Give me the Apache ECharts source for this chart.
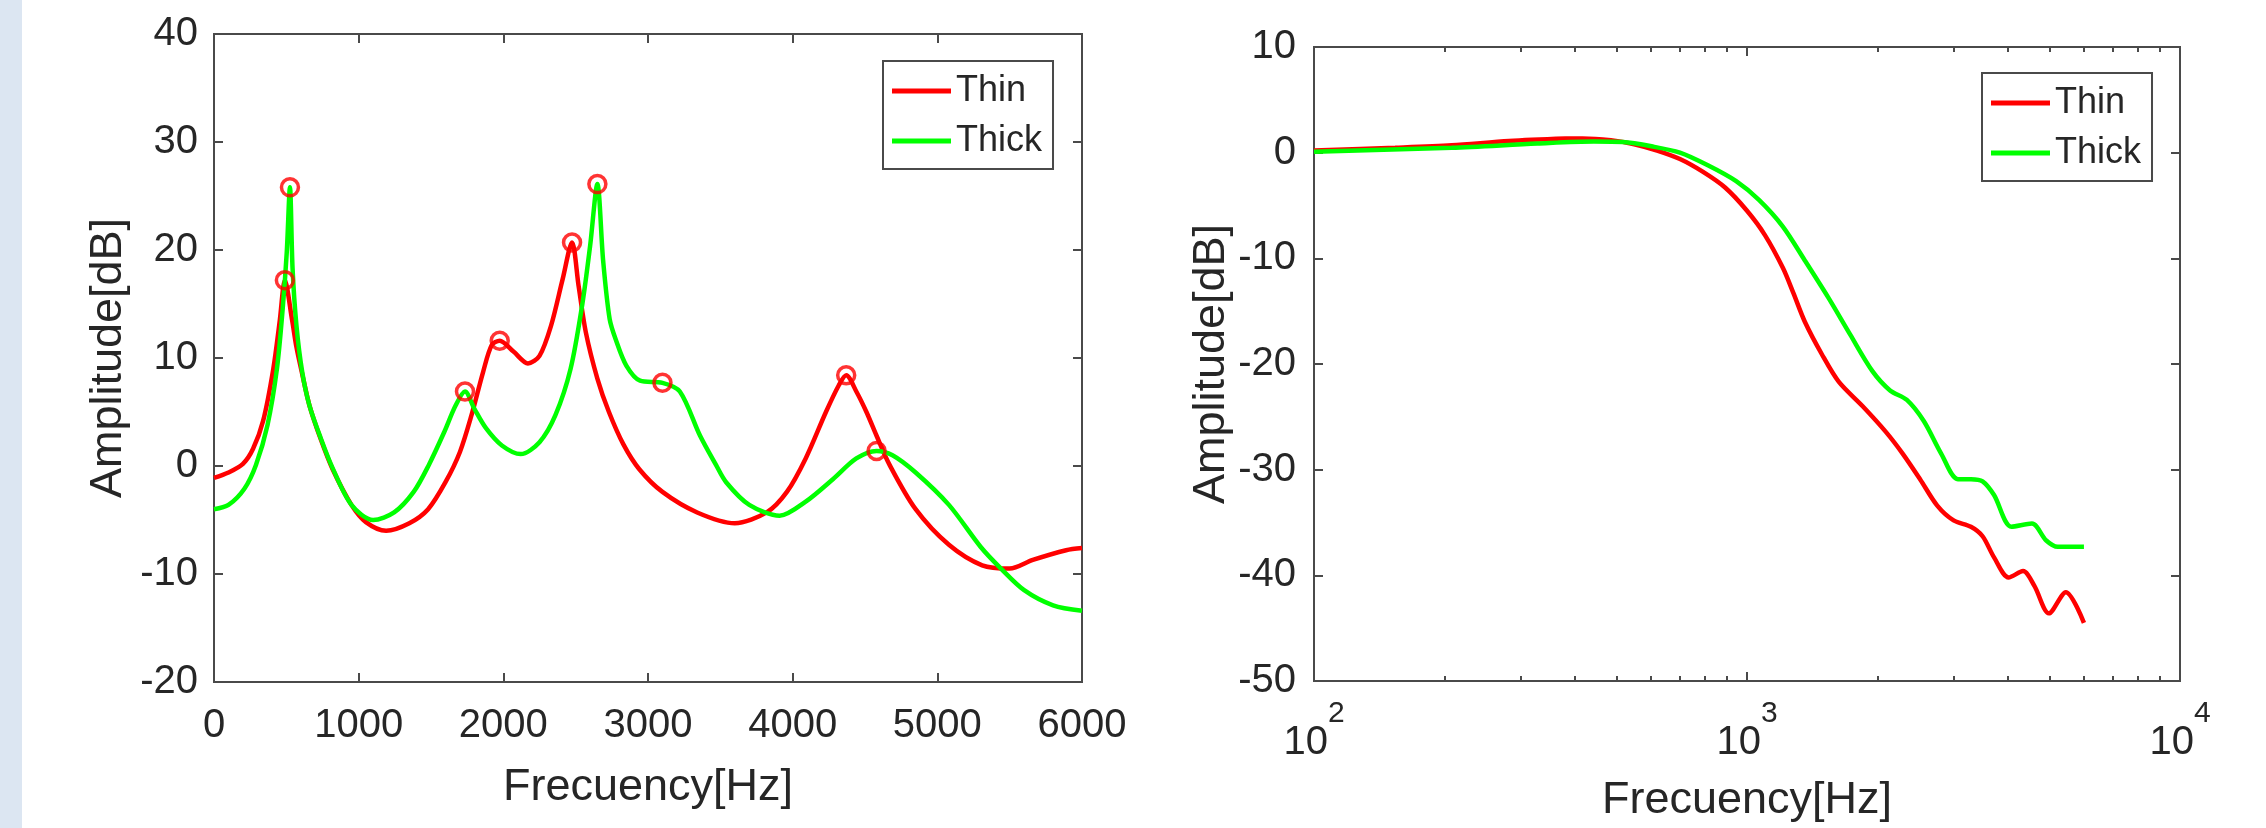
<!DOCTYPE html>
<html>
<head>
<meta charset="utf-8">
<title>Frecuency response</title>
<script src="https://cdn.jsdelivr.net/npm/echarts@6/dist/echarts.min.js"></script>
<style>
  html, body { margin: 0; padding: 0; background: #fff; }
  #strip { position: absolute; left: 0; top: 0; width: 22px; height: 828px; background: #dce6f2; }
  #chart { position: absolute; left: 0; top: 0; width: 2266px; height: 828px; }
</style>
</head>
<body>
<div id="strip"></div>
<div id="chart"></div>
<script>
// Left panel: linear frequency axis (Hz) / amplitude (dB)
const thinFreq = [0, 100, 200, 270, 340, 410, 455, 490, 540, 570, 610, 660, 740, 820, 950, 1050, 1190, 1350, 1480, 1600, 1700, 1780, 1860, 1920, 1975, 2070, 2170, 2250, 2330, 2410, 2475, 2520, 2570, 2650, 2730, 2830, 2940, 3100, 3340, 3600, 3820, 3960, 4090, 4230, 4320, 4370, 4440, 4510, 4580, 4670, 4850, 5080, 5310, 5500, 5660, 5890, 6000]
const thinAmp = [-1.1, -0.6, 0.2, 1.6, 4.2, 9.0, 13.5, 17.2, 13.5, 11.0, 8.5, 5.6, 2.4, -0.3, -3.6, -5.2, -6.0, -5.3, -4.0, -1.5, 1.3, 4.7, 8.7, 11.2, 11.6, 10.6, 9.5, 10.2, 13.0, 17.3, 20.7, 16.7, 12.4, 8.1, 5.0, 2.0, -0.3, -2.4, -4.3, -5.3, -4.3, -2.4, 0.7, 5.0, 7.5, 8.4, 6.9, 5.0, 2.8, 0.1, -4.0, -7.3, -9.2, -9.5, -8.7, -7.8, -7.6]

const thickFreq = [0, 100, 210, 290, 370, 435, 475, 503, 525, 543, 570, 610, 660, 740, 820, 950, 1100, 1245, 1380, 1485, 1590, 1670, 1735, 1800, 1880, 1990, 2120, 2250, 2360, 2465, 2545, 2600, 2650, 2690, 2735, 2780, 2850, 2945, 3100, 3220, 3360, 3470, 3540, 3700, 3910, 4090, 4280, 4440, 4580, 4690, 4850, 5080, 5300, 5440, 5600, 5800, 6000]
const thickAmp = [-4.0, -3.6, -2.1, 0.1, 3.8, 9.0, 14.6, 19.8, 25.8, 18.3, 13.0, 8.7, 5.6, 2.5, -0.2, -3.6, -5.0, -4.3, -2.4, 0.1, 3.1, 5.6, 6.9, 5.3, 3.5, 1.9, 1.1, 2.2, 4.7, 9.0, 14.9, 20.4, 26.1, 19.0, 13.6, 11.6, 9.3, 7.9, 7.7, 6.9, 2.8, 0.1, -1.5, -3.6, -4.6, -3.3, -1.2, 0.7, 1.4, 1.0, -0.6, -3.6, -7.5, -9.5, -11.5, -12.9, -13.4]

// Detected peaks (red circles)
const peakFreq = [490, 1975, 2475, 4370, 525, 1735, 2650, 3100, 4580]
const peakAmp = [17.2, 11.6, 20.7, 8.4, 25.8, 6.9, 26.1, 7.7, 1.4]

// Right panel: log frequency axis
const thinLogFreq = [100, 154, 208, 282, 381, 417, 485, 549, 620, 700, 790, 890, 1000, 1100, 1210, 1280, 1360, 1490, 1630, 1850, 2090, 2290, 2510, 2750, 3000, 3290, 3500, 3720, 4020, 4340, 4610, 4980, 5450, 6000]
const thinLogAmp = [0.2, 0.47, 0.7, 1.1, 1.33, 1.35, 1.17, 0.8, 0.2, -0.6, -1.8, -3.3, -5.5, -7.8, -10.9, -13.3, -16.0, -19.1, -21.7, -24.0, -26.4, -28.5, -30.9, -33.4, -34.8, -35.4, -36.3, -38.3, -40.2, -39.6, -41.0, -43.6, -41.6, -44.5]

const thickLogFreq = [100, 208, 328, 443, 517, 602, 700, 812, 944, 1067, 1210, 1360, 1540, 1730, 1950, 2140, 2340, 2560, 2810, 3070, 3290, 3500, 3720, 4080, 4550, 4910, 5220, 6000]
const thickLogAmp = [0.08, 0.47, 0.86, 1.05, 1.0, 0.6, 0, -1.2, -2.7, -4.5, -7.0, -10.2, -13.7, -17.2, -20.7, -22.5, -23.4, -25.4, -28.5, -30.9, -30.9, -31.1, -32.4, -35.4, -35.1, -36.7, -37.3, -37.3]

// Tick marks
const logMajorTicks = [100, 1000, 10000]
const logMinorTicks = [200, 300, 400, 500, 600, 700, 800, 900, 2000, 3000, 4000, 5000, 6000, 7000, 8000, 9000]

const legendNames = ['Thin', 'Thick']

const axisColor = '#4a4a4a'
const textColor = '#262626'
const red = '#ff0000'
const green = '#00ff00'

const pairs = (xs, ys) => xs.map((x, i) => [x, ys[i]])

const myChart = echarts.init(document.getElementById('chart'))

// axis that only draws inward ticks (the box frame comes from the grid border)
const tickOnly = (extra, len) => Object.assign({
    axisLine: { show: false, onZero: false },
    splitLine: { show: false },
    axisTick: { show: true, inside: true, length: len || 9, lineStyle: { color: axisColor, width: 2 } },
    axisLabel: { show: false },
}, extra)

const labelStyle = { color: textColor, fontSize: 40, fontFamily: 'Liberation Sans', formatter: v => String(v) }
const nameStyle = { color: textColor, fontSize: 45, fontFamily: 'Liberation Sans' }

const lineSeries = (name, data, color, x, y) => ({
    name: name,
    type: 'line',
    xAxisIndex: x,
    yAxisIndex: y,
    data: data,
    showSymbol: false,
    smooth: 0.3,
    lineStyle: { color: color, width: 4.5 },
    itemStyle: { color: color },
})

const legendBox = (left, top) => ({
    data: legendNames,
    orient: 'vertical',
    left: left,
    top: top,
    padding: [12, 11, 10, 9],
    itemGap: 14,
    itemWidth: 59,
    itemHeight: 5,
    icon: 'rect',
    borderColor: axisColor,
    borderWidth: 2,
    backgroundColor: '#fff',
    textStyle: { fontSize: 36, color: textColor, fontFamily: 'Liberation Sans' },
})

const option = {
    animation: false,
    textStyle: { fontFamily: 'Liberation Sans' },
    grid: [
        { left: 214, top: 34, width: 868, height: 648, show: true, borderColor: axisColor, borderWidth: 2, backgroundColor: '#fff' },
        { left: 1314, top: 47, width: 866, height: 634, show: true, borderColor: axisColor, borderWidth: 2, backgroundColor: '#fff' },
    ],
    legend: [legendBox(883, 61), legendBox(1982, 73)],
    xAxis: [
        tickOnly({
            type: 'value', gridIndex: 0, position: 'bottom', min: 0, max: 6000, interval: 1000,
            axisLabel: Object.assign({ show: true, margin: 24, showMinLabel: true, showMaxLabel: true }, labelStyle),
            name: 'Frecuency[Hz]', nameLocation: 'middle', nameGap: 83, nameTextStyle: nameStyle,
        }),
        tickOnly({ type: 'value', gridIndex: 0, position: 'top', min: 0, max: 6000, interval: 1000 }),
        tickOnly({
            type: 'log', logBase: 10, gridIndex: 1, position: 'bottom', min: 100, max: 10000,
            axisTick: { show: true, inside: true, length: 9, customValues: logMajorTicks, lineStyle: { color: axisColor, width: 2 } },
            axisLabel: {
                show: true, margin: 18, customValues: logMajorTicks, showMinLabel: true, showMaxLabel: true,
                formatter: v => '{b|10}{s|' + Math.round(Math.log10(v)) + '}',
                rich: {
                    b: { fontSize: 40, lineHeight: 64, color: textColor, fontFamily: 'Liberation Sans', verticalAlign: 'bottom' },
                    s: { fontSize: 30, lineHeight: 30, color: textColor, fontFamily: 'Liberation Sans', verticalAlign: 'top' },
                },
            },
            name: 'Frecuency[Hz]', nameLocation: 'middle', nameGap: 97, nameTextStyle: nameStyle,
        }),
        tickOnly({
            type: 'log', logBase: 10, gridIndex: 1, position: 'bottom', min: 100, max: 10000,
            axisTick: { show: true, inside: true, length: 5, customValues: logMinorTicks, lineStyle: { color: axisColor, width: 2 } },
        }),
        tickOnly({
            type: 'log', logBase: 10, gridIndex: 1, position: 'top', min: 100, max: 10000,
            axisTick: { show: true, inside: true, length: 9, customValues: logMajorTicks, lineStyle: { color: axisColor, width: 2 } },
        }),
        tickOnly({
            type: 'log', logBase: 10, gridIndex: 1, position: 'top', min: 100, max: 10000,
            axisTick: { show: true, inside: true, length: 5, customValues: logMinorTicks, lineStyle: { color: axisColor, width: 2 } },
        }),
    ],
    yAxis: [
        tickOnly({
            type: 'value', gridIndex: 0, position: 'left', min: -20, max: 40, interval: 10,
            axisLabel: Object.assign({ show: true, margin: 16, showMinLabel: true, showMaxLabel: true }, labelStyle),
            name: 'Amplitude[dB]', nameLocation: 'middle', nameGap: 83, nameTextStyle: nameStyle,
        }),
        tickOnly({ type: 'value', gridIndex: 0, position: 'right', min: -20, max: 40, interval: 10 }),
        tickOnly({
            type: 'value', gridIndex: 1, position: 'left', min: -50, max: 10, interval: 10,
            axisLabel: Object.assign({ show: true, margin: 18, showMinLabel: true, showMaxLabel: true }, labelStyle),
            name: 'Amplitude[dB]', nameLocation: 'middle', nameGap: 80, nameTextStyle: nameStyle,
        }),
        tickOnly({ type: 'value', gridIndex: 1, position: 'right', min: -50, max: 10, interval: 10 }),
    ],
    series: [
        lineSeries('Thin', pairs(thinFreq, thinAmp), red, 0, 0),
        lineSeries('Thick', pairs(thickFreq, thickAmp), green, 0, 0),
        {
            name: 'peaks',
            type: 'scatter',
            xAxisIndex: 0,
            yAxisIndex: 0,
            data: pairs(peakFreq, peakAmp),
            symbol: 'circle',
            symbolSize: 17,
            z: 5,
            itemStyle: { color: 'rgba(0,0,0,0)', borderColor: red, borderWidth: 3.5 },
        },
        lineSeries('Thin', pairs(thinLogFreq, thinLogAmp), red, 2, 2),
        lineSeries('Thick', pairs(thickLogFreq, thickLogAmp), green, 2, 2),
    ],
}

myChart.setOption(option)
</script>
</body>
</html>
